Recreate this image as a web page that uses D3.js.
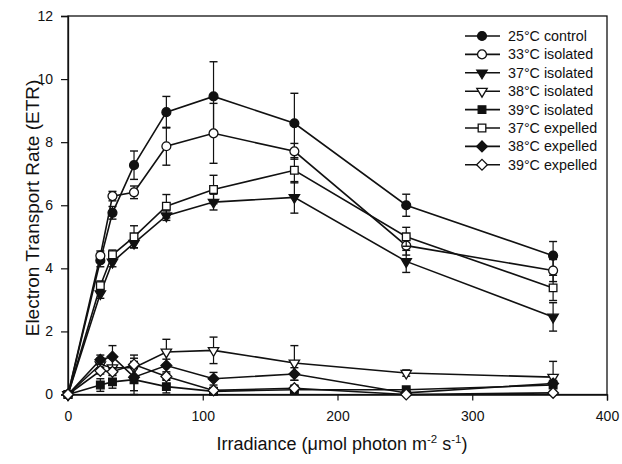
<!DOCTYPE html>
<html><head><meta charset="utf-8">
<script src="https://cdn.jsdelivr.net/npm/d3@7"></script>
<style>body{margin:0;background:#fff}svg{display:block}text{font-family:"Liberation Sans",Arial,sans-serif;fill:#111}</style>
</head><body><svg id="c" width="622" height="464"></svg>
<script>
const irradiance = [0, 24, 33, 49, 73, 108, 168, 251, 360];
const seriesNames = ["25°C control","33°C isolated","37°C isolated","38°C isolated","39°C isolated","37°C expelled","38°C expelled","39°C expelled"];
const ctrl25   = [0, 4.25, 5.76, 7.27, 8.95, 9.45, 8.6, 6.0, 4.4];
const iso33    = [0, 4.4, 6.29, 6.41, 7.87, 8.28, 7.71, 4.72, 3.93];
const iso37    = [0, 3.2, 4.2, 4.8, 5.67, 6.1, 6.25, 4.22, 2.46];
const iso38    = [0, 0.95, 0.85, 0.85, 1.35, 1.4, 1.0, 0.68, 0.55];
const iso39    = [0, 0.3, 0.4, 0.47, 0.25, 0.1, 0.15, 0.15, 0.3];
const exp37    = [0, 3.45, 4.43, 5.0, 5.97, 6.5, 7.11, 5.0, 3.38];
const exp38    = [0, 1.1, 1.2, 0.55, 0.92, 0.5, 0.65, 0.05, 0.35];
const exp39    = [0, 0.75, 0.72, 0.95, 0.57, 0.13, 0.2, 0.0, 0.05];
const errCtrl25 = [0, 0.2, 0.2, 0.45, 0.5, 1.1, 0.95, 0.35, 0.45];
const errIso33  = [0, 0.15, 0.15, 0.2, 0.6, 0.95, 0.25, 0.3, 0.35];
const errIso37  = [0, 0.15, 0.15, 0.15, 0.15, 0.25, 0.5, 0.35, 0.45];
const errIso38  = [0, 0.2, 0.35, 0.3, 0.4, 0.42, 0.55, 0.1, 0.5];
const errIso39  = [0, 0.2, 0.2, 0.35, 0.2, 0.1, 0.05, 0.05, 0.1];
const errExp37  = [0, 0.15, 0.15, 0.35, 0.37, 0.45, 0.4, 0.3, 0.4];
const errExp38  = [0, 0.15, 0.35, 0.7, 0.2, 0.2, 0.2, 0.05, 0.1];
const errExp39  = [0, 0.1, 0.1, 0.1, 0.1, 0.1, 0.1, 0.05, 0.05];
const xTicks = [0, 100, 200, 300, 400];
const yTicks = [0, 2, 4, 6, 8, 10, 12];

const values = [ctrl25, iso33, iso37, iso38, iso39, exp37, exp38, exp39];
const errors = [errCtrl25, errIso33, errIso37, errIso38, errIso39, errExp37, errExp38, errExp39];
const symbols = [
  {t:d3.symbolCircle, f:true}, {t:d3.symbolCircle, f:false},
  {t:"tri", f:true}, {t:"tri", f:false},
  {t:d3.symbolSquare, f:true}, {t:d3.symbolSquare, f:false},
  {t:"dia", f:true}, {t:"dia", f:false}
];
const sizes = [62, 62, 0, 0, 58, 58, 0, 0];

const svg = d3.select("#c");
const x = d3.scaleLinear().domain([0, 400]).range([68, 607]);
const y = d3.scaleLinear().domain([0, 12]).range([394.5, 16]);

function symPath(s, i) {
  if (s.t === "tri") {
    const w = 5.2, h = 4.6;
    return `M${-w},${-h*0.6}L${w},${-h*0.6}L0,${h*1.3}Z`;
  }
  if (s.t === "dia") {
    const r = 5.4;
    return `M0,${-r}L${r},0L0,${r}L${-r},0Z`;
  }
  return d3.symbol().type(s.t).size(sizes[i])();
}

// frame
svg.append("rect").attr("x", x(0)).attr("y", y(12)).attr("width", x(400)-x(0)).attr("height", y(0)-y(12))
  .attr("fill", "none").attr("stroke", "#111").attr("stroke-width", 1.3);

const xAxis = svg.append("g").attr("transform", `translate(0,${y(0)})`)
  .call(d3.axisBottom(x).tickValues(xTicks).tickSize(6).tickPadding(11).tickFormat(d3.format("d")));
const yAxis = svg.append("g").attr("transform", `translate(${x(0)},0)`)
  .call(d3.axisLeft(y).tickValues(yTicks).tickSize(7).tickPadding(8).tickFormat(d3.format("d")));
[xAxis, yAxis].forEach(g => {
  g.select(".domain").attr("stroke", "#111").attr("stroke-width", 1.3);
  g.selectAll(".tick line").attr("stroke", "#111").attr("stroke-width", 1.2);
  g.selectAll(".tick text").attr("font-size", 14).attr("font-family", '"Liberation Sans",Arial,sans-serif').attr("fill", "#111");
});

// axis titles
const xl = svg.append("text").attr("x", 342).attr("y", 450).attr("text-anchor", "middle").attr("font-size", 18);
xl.append("tspan").text("Irradiance (\u03bcmol photon m");
xl.append("tspan").attr("font-size", 11.5).attr("dy", -7).text("-2");
xl.append("tspan").attr("dy", 7).text(" s");
xl.append("tspan").attr("font-size", 11.5).attr("dy", -7).text("-1");
xl.append("tspan").attr("dy", 7).text(")");
svg.append("text").attr("transform", "translate(39,208) rotate(-90)").attr("text-anchor", "middle")
  .attr("font-size", 19).text("Electron Transport Rate (ETR)");

const line = d3.line().x(d => x(d[0])).y(d => y(d[1]));
const plot = svg.append("g");
values.forEach((vals, i) => {
  const pts = irradiance.map((xi, k) => [xi, vals[k], errors[i][k]]);
  const g = plot.append("g");
  g.append("path").attr("d", line(pts)).attr("fill", "none").attr("stroke", "#111").attr("stroke-width", 1.6);
  pts.forEach(p => {
    if (p[2] > 0) {
      const cx = x(p[0]), y1 = y(p[1] + p[2]), y2 = y(Math.max(0, p[1] - p[2]));
      g.append("line").attr("x1", cx).attr("x2", cx).attr("y1", y1).attr("y2", y2).attr("stroke", "#111").attr("stroke-width", 1.2);
      [y1, y2].forEach(yy => g.append("line").attr("x1", cx-4).attr("x2", cx+4).attr("y1", yy).attr("y2", yy).attr("stroke", "#111").attr("stroke-width", 1.4));
    }
  });
  g.selectAll("path.m").data(pts).join("path").attr("class", "m")
    .attr("transform", d => `translate(${x(d[0])},${y(d[1])})`)
    .attr("d", symPath(symbols[i], i))
    .attr("fill", symbols[i].f ? "#111" : "#fff").attr("stroke", "#111").attr("stroke-width", 1.3);
});

// legend
const leg = svg.append("g");
seriesNames.forEach((name, i) => {
  const yy = 36 + i * 18.4;
  leg.append("line").attr("x1", 465).attr("x2", 500).attr("y1", yy).attr("y2", yy).attr("stroke", "#111").attr("stroke-width", 1.6);
  leg.append("path").attr("transform", `translate(482,${yy})`).attr("d", symPath(symbols[i], i))
    .attr("fill", symbols[i].f ? "#111" : "#fff").attr("stroke", "#111").attr("stroke-width", 1.3);
  leg.append("text").attr("x", 508).attr("y", yy + 5).attr("font-size", 14.3).text(name);
});
</script></body></html>
